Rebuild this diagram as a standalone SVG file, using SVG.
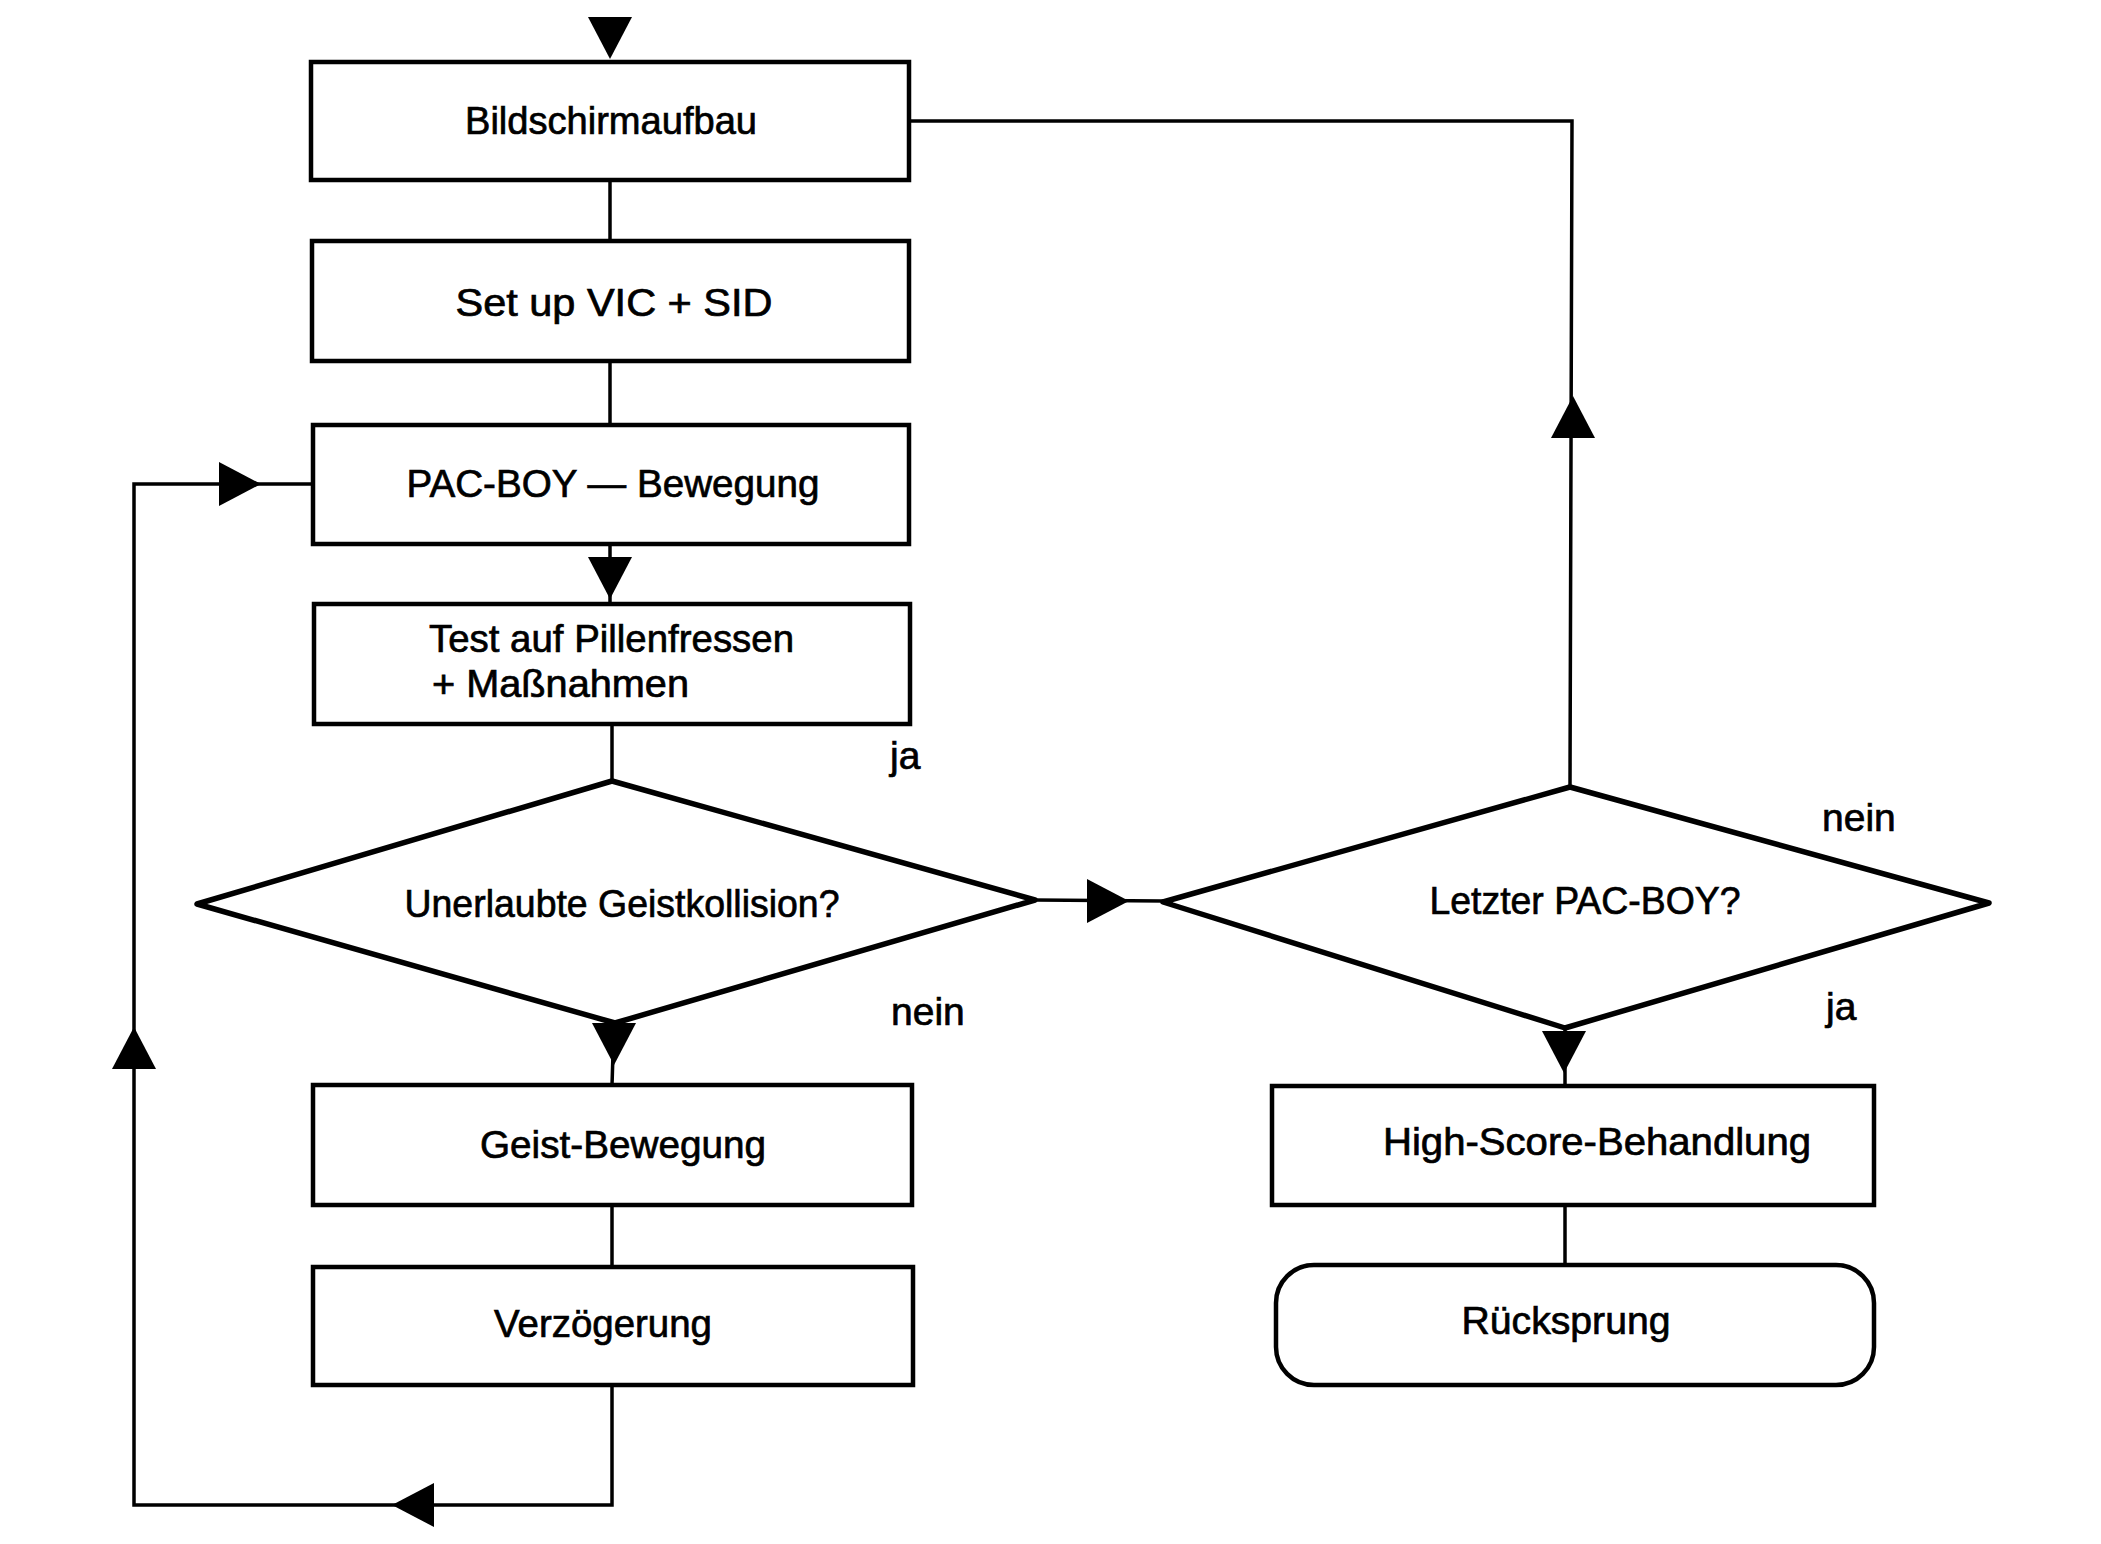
<svg xmlns="http://www.w3.org/2000/svg" xmlns:xlink="http://www.w3.org/1999/xlink" width="2101" height="1544" viewBox="0 0 2101 1544">
<style>
.box{fill:#fff;stroke:#000;stroke-width:4.5}
.dia{fill:#fff;stroke:#000;stroke-width:5.5;stroke-linejoin:round}
.con{fill:none;stroke:#000;stroke-width:3.5}
.head{fill:#000;stroke:none}
text{font-family:"Liberation Sans",Arial,sans-serif;font-size:39px;fill:#000;stroke:#000;stroke-width:0.7}
.c{text-anchor:middle}
</style>
<defs>
<polygon id="ah" class="head" points="-22,-42 22,-42 0,0"/>
</defs>
<rect width="2101" height="1544" fill="#fff"/>
<g id="connectors">
<polyline class="con" points="610,180 610,241"/>
<polyline class="con" points="610,361 610,425"/>
<polyline class="con" points="610,544 610,604"/>
<polyline class="con" points="612,724 612,781"/>
<polyline class="con" points="614,1023 612,1085"/>
<polyline class="con" points="612,1205 612,1267"/>
<polyline class="con" points="612,1385 612,1505 134,1505 134,484 313,484"/>
<polyline class="con" points="1035,900 1163,901"/>
<polyline class="con" points="1570,787 1572,121 909,121"/>
<polyline class="con" points="1565,1028 1565,1086"/>
<polyline class="con" points="1565,1205 1565,1265"/>
<use xlink:href="#ah" transform="translate(610,59)"/>
<use xlink:href="#ah" transform="translate(610,599)"/>
<use xlink:href="#ah" transform="translate(614,1065)"/>
<use xlink:href="#ah" transform="translate(392,1505) rotate(90)"/>
<use xlink:href="#ah" transform="translate(134,1027) rotate(180)"/>
<use xlink:href="#ah" transform="translate(261,484) rotate(-90)"/>
<use xlink:href="#ah" transform="translate(1129,901) rotate(-90)"/>
<use xlink:href="#ah" transform="translate(1573,396) rotate(180)"/>
<use xlink:href="#ah" transform="translate(1564,1073)"/>
</g>
<g id="n-bildschirmaufbau">
<rect class="box" x="311" y="62" width="598" height="118"/>
<text class="c" x="611" y="134" textLength="292" lengthAdjust="spacingAndGlyphs">Bildschirmaufbau</text>
</g>
<g id="n-setup">
<rect class="box" x="312" y="241" width="597" height="120"/>
<text class="c" x="614" y="316" textLength="317" lengthAdjust="spacingAndGlyphs">Set up VIC + SID</text>
</g>
<g id="n-pacboy">
<rect class="box" x="313" y="425" width="596" height="119"/>
<text class="c" x="613" y="497" textLength="413" lengthAdjust="spacingAndGlyphs">PAC-BOY — Bewegung</text>
</g>
<g id="n-test">
<rect class="box" x="314" y="604" width="596" height="120"/>
<text x="429" y="652" textLength="365" lengthAdjust="spacingAndGlyphs">Test auf Pillenfressen</text>
<text x="432" y="697" textLength="257" lengthAdjust="spacingAndGlyphs">+ Maßnahmen</text>
</g>
<g id="n-kollision">
<polygon class="dia" points="612,781 1035,900 615,1023 197,904"/>
<text class="c" x="622" y="917" textLength="435" lengthAdjust="spacingAndGlyphs">Unerlaubte Geistkollision?</text>
</g>
<g id="n-geist">
<rect class="box" x="313" y="1085" width="599" height="120"/>
<text class="c" x="623" y="1158" textLength="286" lengthAdjust="spacingAndGlyphs">Geist-Bewegung</text>
</g>
<g id="n-verzoegerung">
<rect class="box" x="313" y="1267" width="600" height="118"/>
<text class="c" x="603" y="1337" textLength="218" lengthAdjust="spacingAndGlyphs">Verzögerung</text>
</g>
<g id="n-letzter">
<polygon class="dia" points="1570,787 1989,903 1565,1028 1163,902"/>
<text class="c" x="1585" y="914" textLength="311" lengthAdjust="spacingAndGlyphs">Letzter PAC-BOY?</text>
</g>
<g id="n-highscore">
<rect class="box" x="1272" y="1086" width="602" height="119"/>
<text class="c" x="1597" y="1155" textLength="428" lengthAdjust="spacingAndGlyphs">High-Score-Behandlung</text>
</g>
<g id="n-ruecksprung">
<rect class="box" x="1276" y="1265" width="598" height="120" rx="38" ry="38"/>
<text class="c" x="1566" y="1334" textLength="209" lengthAdjust="spacingAndGlyphs">Rücksprung</text>
</g>
<g id="labels">
<text x="890" y="769">ja</text>
<text x="891" y="1025">nein</text>
<text x="1822" y="831">nein</text>
<text x="1826" y="1020">ja</text>
</g>
</svg>
